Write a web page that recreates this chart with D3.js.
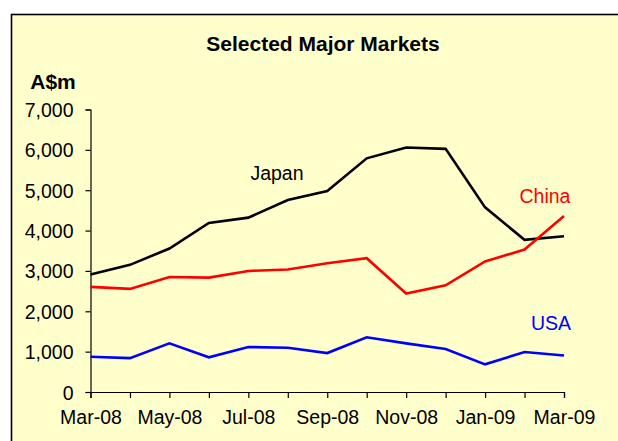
<!DOCTYPE html>
<html>
<head>
<meta charset="utf-8">
<script src="https://cdn.jsdelivr.net/npm/d3@7"></script>
<style>
  html, body { margin: 0; padding: 0; background: #fff; }
  svg { display: block; font-family: "Liberation Sans", Arial, sans-serif; }
</style>
</head>
<body>
<div id="chart"></div>
<script>
/* =====================================================
 * DATOS
 * ===================================================== */
const months = ["Mar-08", "Apr-08", "May-08", "Jun-08", "Jul-08", "Aug-08", "Sep-08",
                "Oct-08", "Nov-08", "Dec-08", "Jan-09", "Feb-09", "Mar-09"];
const tickLabels = ["Mar-08", "May-08", "Jul-08", "Sep-08", "Nov-08", "Jan-09", "Mar-09"];
const yTicks = [0, 1000, 2000, 3000, 4000, 5000, 6000, 7000];

const japan = [2910, 3150, 3555, 4190, 4320, 4755, 4980, 5790, 6060, 6025, 4575, 3770, 3860];
const china = [2605, 2555, 2850, 2835, 3000, 3035, 3190, 3315, 2440, 2645, 3235, 3530, 4360];
const usa   = [875, 840, 1205, 860, 1115, 1095, 965, 1355, 1205, 1065, 685, 990, 905];

const width = 618, height = 441;

// Serie -> estilo y posición de etiqueta
const series = [
  { name: "Japan", values: japan, color: "#000000", label: [277, 180] },
  { name: "China", values: china, color: "#ff0000", label: [545, 203] },
  { name: "USA",   values: usa,   color: "#0000ff", label: [551, 330] }
];

/* =====================================================
 * SVG + fondo
 * ===================================================== */
const svg = d3.select("#chart")
  .append("svg")
  .attr("width", width)
  .attr("height", height);

svg.append("rect")
  .attr("x", 11.5).attr("y", 14.5)
  .attr("width", width + 10).attr("height", height + 10)
  .attr("fill", "#ffffcc")
  .attr("stroke", "#000")
  .attr("stroke-width", 1.6);

/* =====================================================
 * ESCALAS
 * ===================================================== */
const x = d3.scalePoint().domain(months).range([90.5, 564]);
const y = d3.scaleLinear().domain([0, 7000]).range([392, 109.5]);

/* =====================================================
 * EJES
 * ===================================================== */
const yAxis = svg.append("g")
  .attr("transform", "translate(90.5,0)")
  .call(d3.axisLeft(y).tickValues(yTicks).tickSize(5).tickPadding(12)
    .tickFormat(d3.format(",")));

const xAxis = svg.append("g")
  .attr("transform", "translate(0,392)")
  .call(d3.axisBottom(x).tickSize(6).tickPadding(12)
    .tickFormat(d => tickLabels.includes(d) ? d : ""));

[xAxis, yAxis].forEach(g => {
  g.select(".domain").attr("stroke", "#000").attr("stroke-width", 1.2);
  g.selectAll(".tick line").attr("stroke", "#000").attr("stroke-width", 1.2);
  g.selectAll(".tick text")
    .attr("fill", "#000")
    .style("font-size", "19.5px")
    .style("font-family", "'Liberation Sans', Arial, sans-serif");
});
yAxis.selectAll(".tick text").attr("dy", "0.36em");
xAxis.selectAll(".tick text").attr("dy", "0.71em");

/* =====================================================
 * LÍNEAS
 * ===================================================== */
const line = d3.line()
  .x((d, i) => x(months[i]))
  .y(d => y(d));

series.forEach(s => {
  svg.append("path")
    .datum(s.values)
    .attr("fill", "none")
    .attr("stroke", s.color)
    .attr("stroke-width", 2.6)
    .attr("stroke-linejoin", "miter")
    .attr("d", line);

  svg.append("text")
    .attr("x", s.label[0]).attr("y", s.label[1])
    .attr("text-anchor", "middle")
    .attr("fill", s.color)
    .style("font-size", "19.5px")
    .text(s.name);
});

/* =====================================================
 * TÍTULOS
 * ===================================================== */
svg.append("text")
  .attr("x", 323).attr("y", 51)
  .attr("text-anchor", "middle")
  .style("font-size", "21px")
  .style("font-weight", "bold")
  .text("Selected Major Markets");

svg.append("text")
  .attr("x", 53).attr("y", 89)
  .attr("text-anchor", "middle")
  .style("font-size", "21px")
  .style("font-weight", "bold")
  .text("A$m");
</script>
</body>
</html>
